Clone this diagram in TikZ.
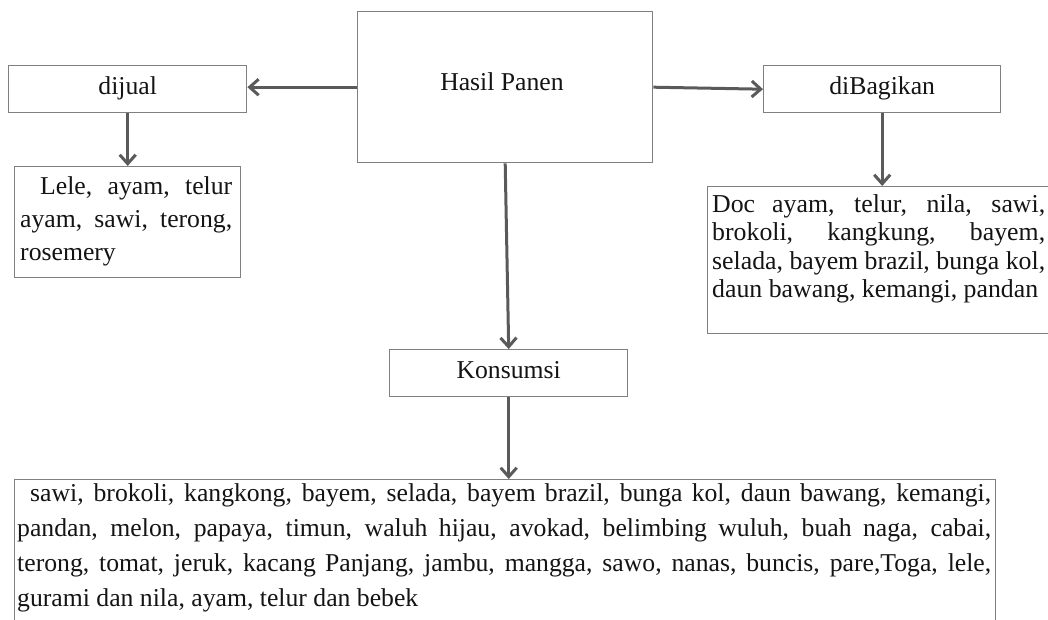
\documentclass[tikz,border=0pt]{standalone}
\usepackage{fontspec}
\setmainfont{Liberation Serif}
\usetikzlibrary{arrows.meta}
\definecolor{boxgray}{RGB}{128,128,128}
\definecolor{arrgray}{RGB}{90,90,90}
\definecolor{txt}{RGB}{20,20,20}
\begin{document}
\begin{tikzpicture}[x=1pt,y=-1pt,
  box/.style={draw=boxgray, line width=1.4pt, fill=white, inner sep=0pt, anchor=north west},
  lbl/.style={text=txt, font=\fontsize{25.7}{30}\selectfont, inner sep=0pt, text height=17pt, text depth=5.5pt},
  para/.style={text=txt, inner sep=0pt, anchor=north west, align=justify},
  arr/.style={draw=arrgray, line width=3pt, -{Straight Barb[length=9pt,width=16pt]}}
]
\useasboundingbox (0,0) rectangle (1048,620);
\clip (0,0) rectangle (1048,620);

% Hasil Panen
\node[box, minimum width=295pt, minimum height=151pt] (hasil) at (357,11) {};
\node[lbl, anchor=base, text height=, text depth=] (hasiltxt) at (502,91) {Hasil Panen};

% dijual
\node[box, lbl, minimum width=238pt, minimum height=47pt] (dijual) at (8,65) {dijual};
\node[box, minimum width=226pt, minimum height=111pt] (lele) at (14,166) {};
\node[para, text width=212pt, font=\fontsize{25.7}{33}\selectfont] (leletxt) at (20,166)
  {\noindent\rule{0pt}{28pt}\hspace*{20pt}Lele, ayam, telur\linebreak ayam, sawi, terong,\linebreak rosemery};

% diBagikan
\node[box, lbl, minimum width=237pt, minimum height=47pt] (bagi) at (763,65) {diBagikan};
\node[box, minimum width=360pt, minimum height=147pt] (doc) at (707,186) {};
\node[para, text width=333pt, font=\fontsize{25.8}{28.5}\selectfont] (doctxt) at (712,186)
  {\noindent\rule{0pt}{26pt}Doc ayam, telur, nila, sawi,\linebreak brokoli, kangkung, bayem,\linebreak selada, bayem brazil, bunga kol,\linebreak daun bawang, kemangi, pandan};

% Konsumsi
\node[box, lbl, minimum width=238pt, minimum height=47pt] (kons) at (389,349) {Konsumsi};
\node[box, minimum width=981pt, minimum height=200pt] (cons) at (14,479) {};
\node[para, text width=974pt, font=\fontsize{25.7}{35}\selectfont] (constxt) at (17,479)
  {\noindent\rule{0pt}{22pt}\hspace*{13pt}sawi, brokoli, kangkong, bayem, selada, bayem brazil, bunga kol, daun bawang, kemangi,\linebreak pandan, melon, papaya, timun, waluh hijau, avokad, belimbing wuluh, buah naga, cabai,\linebreak terong, tomat, jeruk, kacang Panjang, jambu, mangga, sawo, nanas, buncis, pare,Toga, lele,\linebreak gurami dan nila, ayam, telur dan bebek};

% connectors
\draw[arr] (hasil.west) -- (hasil.west -| dijual.east);
\draw[arr] (hasil.east) -- (bagi.west);
\draw[arr] (dijual.south) -- (lele.north);
\draw[arr] (bagi.south) -- (bagi.south |- doc.north);
\draw[arr] (hasil.south) -- (kons.north);
\draw[arr] (kons.south) -- (kons.south |- cons.north);
\end{tikzpicture}
\end{document}
